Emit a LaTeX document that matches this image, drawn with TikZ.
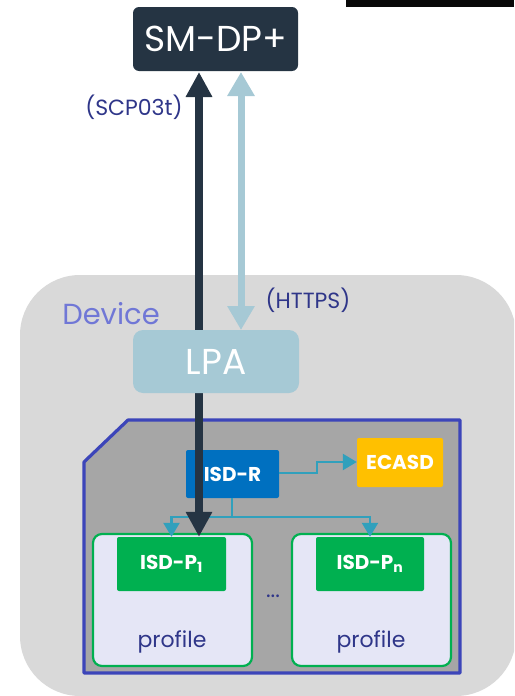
\documentclass[tikz,border=0pt]{standalone}
\usepackage{fontspec}
\setmainfont{Poppins}
\usetikzlibrary{arrows.meta}
\definecolor{navy}{HTML}{253443}
\definecolor{lpablue}{HTML}{A6C9D5}
\definecolor{inkblue}{HTML}{2F3689}
\definecolor{devlabel}{HTML}{7077D6}
\definecolor{devgrey}{HTML}{D9D9D9}
\definecolor{chipedge}{HTML}{3C45B9}
\definecolor{chipfill}{HTML}{A6A6A6}
\definecolor{isdr}{HTML}{0070C0}
\definecolor{ecasd}{HTML}{FFC000}
\definecolor{teal}{HTML}{31A0BC}
\definecolor{green}{HTML}{00B050}
\definecolor{proffill}{HTML}{E5E6F6}
\tikzset{
  box/.style={inner sep=0pt, anchor=center},
  bigbox/.style={box, rounded corners=6pt, text=white},
  appletbox/.style={box, rounded corners=2pt, text=white, font=\fontsize{20}{22}\selectfont\bfseries},
  profbox/.style={box, draw=green, line width=2.2pt, fill=proffill, rounded corners=9pt,
    minimum width=159pt, minimum height=132pt},
  proto/.style={text=inkblue, font=\fontsize{22}{24}\selectfont},
  bigarrow/.style={line width=8pt, draw=navy, {Triangle[width=25pt,length=25pt]}-{Triangle[width=25pt,length=25pt]}},
  httpsarrow/.style={line width=7pt, draw=lpablue, {Triangle[width=26pt,length=24pt]}-{Triangle[width=26pt,length=24pt]}},
  link/.style={line width=2.5pt, draw=teal, -{Triangle[width=16pt,length=14pt]}}
}
\begin{document}
\begin{tikzpicture}[x=1pt, y=-1pt]
\useasboundingbox (0,0) rectangle (514,696);
% top strip
\fill[black!97] (346,0) rectangle (514,7);
% device area
\begin{scope}
\clip (0,0) rectangle (514,696);
\fill[devgrey, rounded corners=60pt] (20,275) rectangle (516,696);
\end{scope}
\node[text=devlabel, font=\fontsize{29}{31}\selectfont] (devlbl) at (111,314) {Device};

% server
\node[bigbox, fill=navy, minimum width=165pt, minimum height=64pt,
  font=\fontsize{36}{38}\selectfont] (smdp) at (215.5,39) {SM-DP+};

% eUICC
\draw[chipedge, fill=chipfill, line width=3.2pt, line join=round]
  (128,420) -- (460,420) -- (460,673) -- (84,673) -- (84,462) -- cycle;

\node[appletbox, fill=isdr, minimum width=93pt, minimum height=48pt] (isdr) at (232.5,474) {ISD-R};
\node[appletbox, fill=ecasd, minimum width=86pt, minimum height=49pt] (ecasd) at (400,462.5) {ECASD};

\node[profbox] (prof1) at (172.5,600) {};
\node[profbox] (profn) at (371.5,600) {};
\node[appletbox, fill=green, minimum width=109pt, minimum height=54pt] (isdp1) at (171.5,564) {ISD-P\textsubscript{1}};
\node[appletbox, fill=green, minimum width=108pt, minimum height=54pt] (isdpn) at (370,564) {ISD-P\textsubscript{n}};
\node[proto] (plabel1) at (172,642) {profile};
\node[proto] (plabeln) at (371,642) {profile};
\node[text=inkblue, font=\fontsize{22}{24}\selectfont] (dots) at (273,596) {...};

% applet links
\draw[link] (isdr.east |- 0,473) -- (317,473) -- (317,462) -- (ecasd.west |- 0,462);
\coordinate (split) at (232,517);
\draw[line width=2.5pt, draw=teal] (isdr.south -| split) -- (split);
\draw[link] (split) -- (isdp1.north |- split) -- (isdp1.north);
\draw[link] (split) -- (isdpn.north |- split) -- (isdpn.north);

% protocol arrows
\coordinate (scpTop) at (199,72);
\draw[httpsarrow] (241,72) -- (241,330);
\draw[bigarrow] (scpTop) -- (scpTop |- isdp1.north);

% LPA sits on top of the SCP03t channel
\node[bigbox, fill=lpablue, rounded corners=10pt, minimum width=166pt, minimum height=63pt,
  font=\fontsize{36}{38}\selectfont] (lpa) at (216,361.5) {LPA};

\node[proto] (scp) at (134,107) {(SCP03t)};
\node[proto] (https) at (308,300) {(HTTPS)};
\end{tikzpicture}
\end{document}
